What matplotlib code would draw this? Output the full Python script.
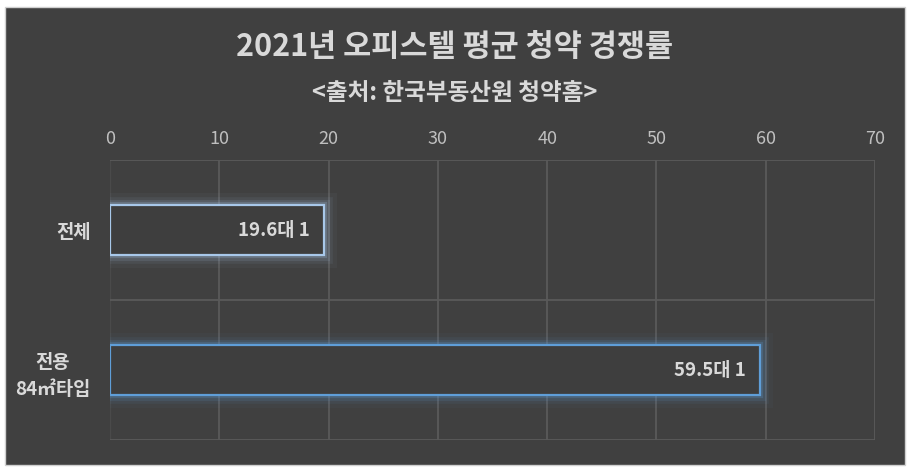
import matplotlib
matplotlib.use("Agg")
import matplotlib.pyplot as plt
import matplotlib.patheffects as pe
from matplotlib.patches import Rectangle

plt.rcParams['font.family'] = ['Noto Sans CJK KR', 'DejaVu Sans']

title = "2021년 오피스텔 평균 청약 경쟁률"
subtitle = "<출처: 한국부동산원 청약홈>"
categories = ["전체", "전용\n84㎡타입"]
values = [19.6, 59.5]
value_labels = ["19.6대 1", "59.5대 1"]
xticks = [0, 10, 20, 30, 40, 50, 60, 70]

W, H = 910, 471
fig = plt.figure(figsize=(W / 100, H / 100), dpi=100, facecolor="white")
fig.patches.append(Rectangle((5 / W, 6 / H), 900 / W, 458 / H, transform=fig.transFigure,
                             facecolor="#404040", edgecolor="#d0d0d0", lw=1, zorder=-10))

ax = fig.add_axes([110 / W, 1 - 440 / H, 765 / W, 280 / H])
ax.set_facecolor("none")
ax.set_xlim(0, 70)
ax.set_ylim(1.5, -0.5)
for s in ax.spines.values():
    s.set_visible(False)

grid_c = "#5a5a5a"
for x in xticks[1:]:
    ax.axvline(x, color=grid_c, lw=1.3, zorder=1)
ax.axvline(0, color="#4a4a4a", lw=1.0, zorder=1)
for y in [-0.5, 0.5, 1.5]:
    ax.axhline(y, color=grid_c, lw=1.3, zorder=1)

edge_colors = ["#a8c8ea", "#5f9ed8"]
bars = ax.barh(range(len(categories)), values, height=0.357, facecolor="#3e3e3e",
               edgecolor=edge_colors, linewidth=1.6, zorder=3)
for b, c in zip(bars, edge_colors):
    b.set_path_effects([
        pe.Stroke(linewidth=18, foreground=c, alpha=0.04),
        pe.Stroke(linewidth=12, foreground=c, alpha=0.07),
        pe.Stroke(linewidth=8, foreground=c, alpha=0.12),
        pe.Stroke(linewidth=4.5, foreground=c, alpha=0.22),
        pe.Normal(),
    ])

for i, (v, lab) in enumerate(zip(values, value_labels)):
    ax.annotate(lab, (v, i), xytext=(-14, 0), textcoords="offset pixels",
                ha="right", va="center", fontsize=13.5, fontweight="bold",
                color="#d9d9d9", zorder=5)

ax.xaxis.tick_top()
ax.set_xticks(xticks)
ax.set_xticklabels([str(t) for t in xticks])
ax.tick_params(axis="x", length=0, pad=9, labelsize=13, labelcolor="#bfbfbf")
ax.set_yticks(range(len(categories)))
ax.set_yticklabels(categories)
ax.tick_params(axis="y", length=0, pad=14, labelsize=13.5, labelcolor="#d9d9d9")
for t in ax.get_yticklabels():
    t.set_fontweight("bold")
    t.set_multialignment("center")
    t.set_linespacing(1.55)

fig.text(0.5, 1 - 47 / H, title, ha="center", va="center", fontsize=22,
         fontweight="bold", color="#d9d9d9")
fig.text(0.5, 1 - 93 / H, subtitle, ha="center", va="center", fontsize=17,
         fontweight="bold", color="#d9d9d9")

fig.savefig("out.png", dpi=100, facecolor="white")
